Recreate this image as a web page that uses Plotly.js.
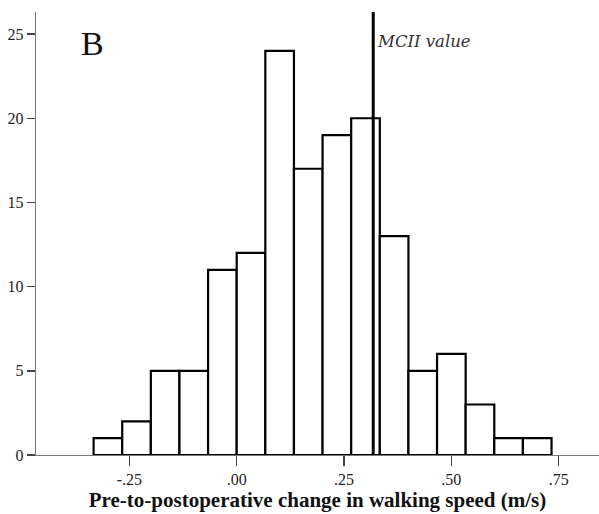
<!DOCTYPE html>
<html>
<head>
<meta charset="utf-8">
<script src="https://cdn.plot.ly/plotly-3.0.1.min.js"></script>
<style>html,body{margin:0;padding:0;background:#fff;}#chart{width:599px;height:514px;}</style>
</head>
<body>
<div id="chart"></div>
<script>
// Histogram bins (width 1/15 m/s), lower edges and counts
const binWidth = 1 / 15;
const binLeftEdges = [-5/15, -4/15, -3/15, -2/15, -1/15, 0, 1/15, 2/15, 3/15, 4/15, 5/15, 6/15, 7/15, 8/15, 9/15, 10/15];
const counts = [1, 2, 5, 5, 11, 12, 24, 17, 19, 20, 13, 5, 6, 3, 1, 1];
const mciiValue = 0.318;
const xTickVals = [-0.25, 0, 0.25, 0.5, 0.75];
const xTickText = ['-.25', '.00', '.25', '.50', '.75'];
const yTickVals = [0, 5, 10, 15, 20, 25];

const centers = binLeftEdges.map(e => e + binWidth / 2);
const SERIF = '"Liberation Serif", "Times New Roman", Times, serif';

const trace = {
  type: 'bar',
  x: centers,
  y: counts,
  width: binWidth,
  marker: { color: '#ffffff', line: { color: '#000000', width: 2.2 } },
  hoverinfo: 'skip'
};

const layout = {
  width: 599, height: 514,
  margin: { l: 36, r: 0, t: 12, b: 59 },
  paper_bgcolor: '#ffffff', plot_bgcolor: '#ffffff',
  showlegend: false,
  bargap: 0,
  font: { family: SERIF, color: '#222', size: 16 },
  xaxis: {
    range: [-0.4675, 0.8439],
    tickvals: xTickVals, ticktext: xTickText,
    ticks: 'outside', ticklen: 10, tickwidth: 1.5, tickcolor: '#444',
    showline: true, linecolor: '#777', linewidth: 1.2,
    showgrid: false, zeroline: false,
    tickfont: { family: SERIF, size: 16, color: '#222' },
    title: { text: 'Pre-to-postoperative change in walking speed (m/s)', standoff: 3,
      font: { family: SERIF, size: 21, color: '#111', weight: 'bold' } }
  },
  yaxis: {
    range: [0, 26.31],
    tickvals: yTickVals,
    ticks: 'outside', ticklen: 8, tickwidth: 1.5, tickcolor: '#444',
    showline: true, linecolor: '#777', linewidth: 1.2,
    showgrid: false, zeroline: false,
    tickfont: { family: SERIF, size: 16, color: '#222' }
  },
  shapes: [{
    type: 'line', xref: 'x', yref: 'paper',
    x0: mciiValue, x1: mciiValue, y0: 0, y1: 1,
    line: { color: '#000', width: 3 }
  }],
  annotations: [
    { xref: 'x', yref: 'paper', x: mciiValue, y: 0.933, xanchor: 'left', yanchor: 'middle',
      xshift: 2, showarrow: false, text: '<i>MCII value</i>',
      font: { family: '"DejaVu Serif", serif', size: 16.5, color: '#333' } },
    { xref: 'paper', yref: 'paper', x: 0.077, y: 0.93, xanchor: 'left', yanchor: 'middle',
      showarrow: false, text: 'B',
      font: { family: SERIF, size: 34, color: '#111' } }
  ]
};

Plotly.newPlot('chart', [trace], layout, { displayModeBar: false, staticPlot: true });
</script>
</body>
</html>
